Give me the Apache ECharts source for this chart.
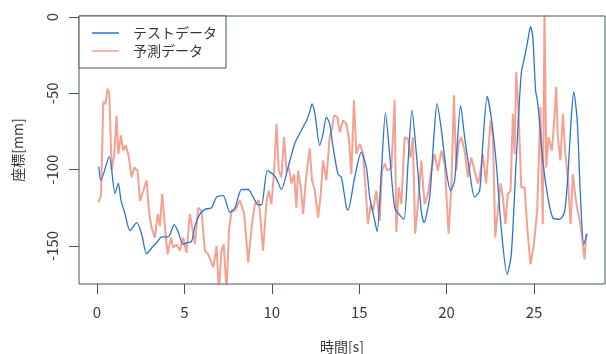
<!DOCTYPE html>
<html>
<head>
<meta charset="utf-8">
<script src="https://cdn.jsdelivr.net/npm/echarts@6/dist/echarts.min.js"></script>
<style>
  html, body { margin: 0; padding: 0; background: #fff; }
  #chart { width: 606px; height: 354px; }
</style>
</head>
<body>
<div id="chart"></div>
<script>
// テストデータ (time [s], position [mm])
const testTime = [
  0.11, 0.22, 0.7, 1.03, 1.22, 1.37, 1.6, 1.89, 2.27, 2.55, 2.84, 3.22, 3.41, 3.7, 4.07,
  4.42, 4.65, 4.93, 5.12, 5.41, 5.6, 5.89, 6.17, 6.55, 6.84, 7.22, 7.6, 7.89, 8.27, 8.65,
  8.84, 9.22, 9.41, 9.75, 10.07, 10.27, 10.55, 10.93, 11.31, 11.7, 11.98, 12.17, 12.3, 12.46, 12.74,
  12.93, 13.12, 13.31, 13.5, 13.79, 13.98, 14.27, 14.36, 14.74, 15.12, 15.41, 15.6, 15.89, 16.02, 16.27,
  16.5, 16.74, 17.03, 17.31, 17.56, 17.79, 18.02, 18.27, 18.55, 18.7, 19.03, 19.27, 19.45, 19.7, 19.98,
  20.23, 20.46, 20.8, 21.03, 21.31, 21.6, 21.89, 22.07, 22.32, 22.55, 22.84, 23.12, 23.46, 23.7, 23.98,
  24.27, 24.5, 24.65, 24.8, 24.93, 25.09, 25.22, 25.5, 25.79, 26.07, 26.46, 26.74, 26.93, 27.12, 27.27,
  27.47, 27.65, 27.85, 28.04
];
const testValue = [
  -98, -107, -91.5, -115.6, -109, -120, -129, -140, -134.7, -142, -155, -150, -148, -144, -144,
  -136, -141, -149, -148, -147, -137, -129, -126, -125, -118, -117, -128, -125, -113, -113,
  -116, -123, -123, -100.7, -103, -106, -113, -98.5, -83, -74, -68, -62, -57, -63, -84,
  -76.5, -65.6, -70, -85, -103, -105, -125, -126.5, -105, -88.6, -98.5, -118, -133.6, -140.6, -100.7,
  -63, -89.7, -125, -129.6, -132.5, -96, -61, -89.7, -127, -134.7, -118, -78.7, -56.8, -74, -100.7,
  -113.8, -107, -58, -78.7, -100.7, -118, -113.8, -83, -52, -65.6, -96, -138, -168.6, -155.5, -94,
  -37, -24, -15, -6.4, -13, -48, -56.8, -94, -118, -131.4, -132.5, -128, -105, -67.8, -49,
  -67.8, -116, -149, -142
];

// 予測データ
const predTime = [
  0.08, 0.23, 0.36, 0.48, 0.61, 0.7, 0.84, 0.99, 1.12, 1.22, 1.37, 1.5, 1.64, 1.79, 1.98,
  2.13, 2.32, 2.46, 2.65, 2.84, 2.97, 3.12, 3.31, 3.47, 3.6, 3.73, 3.89, 4.04, 4.23, 4.36,
  4.55, 4.74, 4.93, 5.12, 5.31, 5.45, 5.6, 5.79, 5.98, 6.17, 6.36, 6.65, 6.84, 6.97, 7.12,
  7.25, 7.41, 7.55, 7.7, 7.89, 8.17, 8.42, 8.65, 8.84, 9.03, 9.26, 9.5, 9.7, 9.83, 9.98,
  10.13, 10.27, 10.4, 10.55, 10.7, 10.84, 10.97, 11.12, 11.27, 11.41, 11.5, 11.66, 11.79, 11.98, 12.17,
  12.3, 12.46, 12.65, 12.8, 12.93, 13.12, 13.31, 13.45, 13.56, 13.75, 13.89, 14.07, 14.27, 14.42, 14.55,
  14.7, 14.84, 15.03, 15.22, 15.36, 15.5, 15.66, 15.79, 15.98, 16.17, 16.3, 16.46, 16.6, 16.84, 17.03,
  17.12, 17.26, 17.41, 17.6, 17.79, 17.94, 18.07, 18.2, 18.36, 18.55, 18.74, 18.93, 19.12, 19.31, 19.5,
  19.7, 19.89, 20.11, 20.27, 20.42, 20.55, 20.68, 20.84, 21.03, 21.22, 21.41, 21.6, 21.79, 21.89, 22.07,
  22.26, 22.51, 22.65, 22.78, 22.93, 23.09, 23.22, 23.36, 23.5, 23.66, 23.79, 23.89, 23.98, 24.11, 24.27,
  24.46, 24.61, 24.8, 24.99, 25.18, 25.37, 25.5, 25.6, 25.7, 25.83, 26.02, 26.13, 26.27, 26.36, 26.51,
  26.65, 26.78, 26.93, 27.09, 27.22, 27.37, 27.5, 27.65, 27.79, 27.89, 27.99
];
const predValue = [
  -121.5, -117, -55.7, -57, -47, -50, -100.7, -89.7, -64.5, -89.7, -77.6, -87.5, -84, -89.7, -105,
  -98.5, -100.7, -120.4, -113.8, -107, -127, -138, -144.5, -129, -137, -116, -138, -155.5, -144.5, -151,
  -149, -153, -144.5, -154.4, -129, -138, -149, -125, -127, -153, -155.5, -164, -150, -180, -153,
  -149, -180, -140, -127, -127, -120, -129, -161, -138, -122.6, -120, -153, -120.4, -113.8, -122.6,
  -100.7, -70, -100.7, -105, -78.7, -100.7, -98.5, -109, -103, -125, -100.7, -111.6, -129, -103, -86,
  -107, -113.8, -131.4, -116, -94, -107, -78.7, -73, -64.5, -65.6, -75.5, -67.8, -70, -81, -103,
  -54.6, -89.7, -83, -89.7, -111.6, -135.7, -122.6, -127, -113.8, -133.6, -100.7, -96, -100.7, -98.5, -54.6,
  -141, -111.6, -122.6, -78.7, -80, -92, -78.7, -142, -122.6, -94, -122.6, -116, -100.7, -89.7, -100.7,
  -87.5, -96, -142, -111.6, -51.3, -100.7, -83, -78.7, -87.5, -105, -92, -100.7, -109, -105, -89.7,
  -109, -67.8, -78.7, -144.5, -127, -109, -118, -135.7, -116, -113.8, -63.4, -89.7, -36, -61, -111.6,
  -111.6, -138, -162, -149, -127, -59, -135.7, 5, -98.5, -78.7, -87.5, -72, -45.8, -78.7, -94,
  -63.4, -87.5, -105, -135.7, -103, -118, -127, -135.7, -149, -158.8, -142
];

const xTicks = [0, 5, 10, 15, 20, 25];
const yTicks = [-150, -100, -50, 0];

const font = '"Noto Sans CJK JP", "Noto Sans", sans-serif';
const textColor = '#383838';
const frameColor = '#3e5858';

const chart = echarts.init(document.getElementById('chart'), null, { renderer: 'canvas' });

const option = {
  backgroundColor: '#fff',
  animation: false,
  textStyle: { fontFamily: font },
  grid: {
    left: 79,
    top: 16,
    right: 1,
    bottom: 70,
    containLabel: false,
    outerBoundsMode: 'none',
    show: true,
    borderColor: frameColor,
    borderWidth: 1,
    backgroundColor: 'transparent'
  },
  legend: {
    orient: 'vertical',
    left: 79,
    top: 16,
    padding: [10, 9, 10, 13],
    itemGap: 4,
    itemWidth: 27,
    itemHeight: 1.5,
    icon: 'rect',
    borderColor: frameColor,
    borderWidth: 1,
    backgroundColor: '#fff',
    textStyle: {
      fontFamily: font,
      fontSize: 14,
      color: textColor,
      padding: [0, 0, 0, 9]
    },
    data: ['テストデータ', '予測データ']
  },
  xAxis: {
    type: 'value',
    min: -1.03,
    max: 29.06,
    name: '時間[s]',
    nameLocation: 'middle',
    nameGap: 63,
    nameTextStyle: { fontFamily: font, fontSize: 14, color: textColor, verticalAlign: 'middle' },
    splitLine: { show: false },
    axisLine: { show: false, onZero: false },
    axisTick: {
      show: true,
      length: 10,
      customValues: xTicks,
      lineStyle: { color: frameColor, width: 1 }
    },
    axisLabel: {
      customValues: xTicks,
      margin: 21,
      fontFamily: font,
      fontSize: 15,
      color: textColor
    }
  },
  yAxis: {
    type: 'value',
    min: -174.9,
    max: 0.65,
    name: '座標[mm]',
    nameLocation: 'middle',
    nameGap: 61,
    nameTextStyle: { fontFamily: font, fontSize: 14, color: textColor, verticalAlign: 'middle' },
    splitLine: { show: false },
    axisLine: { show: false, onZero: false },
    axisTick: {
      show: true,
      length: 10,
      customValues: yTicks,
      lineStyle: { color: frameColor, width: 1 }
    },
    axisLabel: {
      customValues: yTicks,
      rotate: 90,
      margin: 19,
      fontFamily: font,
      fontSize: 15,
      color: textColor
    }
  },
  series: [
    {
      name: '予測データ',
      type: 'line',
      symbol: 'none',
      clip: true,
      z: 2,
      data: predTime.map((t, i) => [t, predValue[i]]),
      lineStyle: { color: '#ee6247', width: 2, opacity: 0.6 },
      itemStyle: { color: '#ee6247', opacity: 0.6 }
    },
    {
      name: 'テストデータ',
      type: 'line',
      symbol: 'none',
      smooth: 0.25,
      clip: true,
      z: 3,
      data: testTime.map((t, i) => [t, testValue[i]]),
      lineStyle: { color: '#2b74d0', width: 1.3 },
      itemStyle: { color: '#2b74d0' }
    }
  ]
};

chart.setOption(option);
</script>
</body>
</html>
